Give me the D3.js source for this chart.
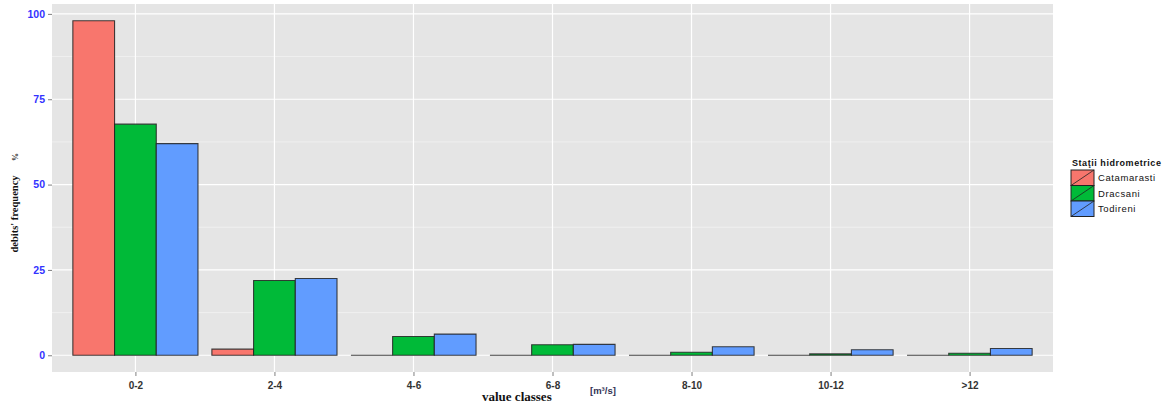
<!DOCTYPE html>
<html><head><meta charset="utf-8">
<script src="https://cdn.jsdelivr.net/npm/d3@7"></script>
<style>body{margin:0;background:#fff}</style>
</head><body>
<svg id="chart" width="1176" height="410"></svg>
<script>
const categories = ["0-2","2-4","4-6","6-8","8-10","10-12",">12"];
const seriesNames = ["Catamarasti","Dracsani","Todireni"];
const catamarasti = [98.0, 1.8, 0, 0, 0, 0, 0];
const dracsani = [67.7, 21.9, 5.5, 3.1, 0.9, 0.4, 0.6];
const todireni = [62.0, 22.5, 6.2, 3.2, 2.5, 1.6, 2.0];
const yTicks = [0, 25, 50, 75, 100];
const yMinor = [12.5, 37.5, 62.5, 87.5];
const colors = ["#F8766D", "#00BA38", "#619CFF"];

const series = [catamarasti, dracsani, todireni];
const svg = d3.select("#chart");
const L = 52, T = 4, R = 1053, B = 372;

const n = categories.length;
const xLin = d3.scaleLinear().domain([1 - 0.6, n + 0.6]).range([L, R]);
const xPos = c => xLin(categories.indexOf(c) + 1);
const step = xLin(2) - xLin(1);
const groupW = step * 0.9;
const x1 = d3.scaleBand().domain(seriesNames).range([-groupW / 2, groupW / 2]);

const yMax = 98.0, yMin = 0;
const pad = (yMax - yMin) * 0.05;
const y = d3.scaleLinear().domain([yMin - pad, yMax + pad]).range([B, T]);

svg.append("rect").attr("x", L).attr("y", T).attr("width", R - L).attr("height", B - T).attr("fill", "#E5E5E5");

svg.append("g").selectAll("line").data(yMinor).join("line")
  .attr("x1", L).attr("x2", R).attr("y1", d => y(d)).attr("y2", d => y(d))
  .attr("stroke", "#F2F2F2").attr("stroke-width", 0.8);
svg.append("g").selectAll("line").data(yTicks).join("line")
  .attr("x1", L).attr("x2", R).attr("y1", d => y(d)).attr("y2", d => y(d))
  .attr("stroke", "#fff").attr("stroke-width", 1.2);
svg.append("g").selectAll("line").data(categories).join("line")
  .attr("x1", d => xPos(d)).attr("x2", d => xPos(d)).attr("y1", T).attr("y2", B)
  .attr("stroke", "#fff").attr("stroke-width", 1.2);

// bars (paths so zero-height bars still show their outline)
const barData = [];
categories.forEach((c, i) => series.forEach((s, j) => barData.push({c, name: seriesNames[j], v: s[i], col: colors[j]})));
svg.append("g").selectAll("path").data(barData).join("path")
  .attr("d", d => {
    const x0 = xPos(d.c) + x1(d.name), w = x1.bandwidth();
    const p = d3.path();
    p.moveTo(x0, y(0)); p.lineTo(x0, y(d.v)); p.lineTo(x0 + w, y(d.v)); p.lineTo(x0 + w, y(0)); p.closePath();
    return p.toString();
  })
  .attr("fill", d => d.col)
  .attr("stroke", "#222").attr("stroke-opacity", 0.85).attr("stroke-width", 1.1);

// y axis
const yAxis = d3.axisLeft(y).tickValues(yTicks).tickSize(4).tickPadding(3);
const gy = svg.append("g").attr("transform", `translate(${L},0)`).call(yAxis);
gy.select(".domain").remove();
gy.selectAll(".tick line").attr("stroke", "#7f7f7f");
gy.selectAll(".tick text").attr("fill", "#3333ff").attr("font-family", "Liberation Sans, Arial, sans-serif")
  .attr("font-weight", "bold").attr("font-size", 10.5);

// x axis
const xScaleAxis = d3.scalePoint().domain(categories).range([xPos(categories[0]), xPos(categories[n - 1])]);
const xAxis = d3.axisBottom(xScaleAxis).tickSize(4).tickPadding(6);
const gx = svg.append("g").attr("transform", `translate(0,${B})`).call(xAxis);
gx.select(".domain").remove();
gx.selectAll(".tick line").attr("stroke", "#7f7f7f");
gx.selectAll(".tick text").attr("fill", "#333").attr("font-family", "Liberation Sans, Arial, sans-serif")
  .attr("font-weight", "bold").attr("font-size", 10);

// axis titles
svg.append("text").attr("x", 482).attr("y", 401)
  .attr("font-family", "Liberation Serif, Times New Roman, serif").attr("font-weight", "bold").attr("font-size", 13)
  .attr("fill", "#111").text("value classes");
svg.append("text").attr("x", 590).attr("y", 394)
  .attr("font-family", "Liberation Sans, Arial, sans-serif").attr("font-weight", "bold").attr("font-size", 9.5)
  .attr("fill", "#333355").text("[m³/s]");
svg.append("text").attr("transform", "translate(18,214) rotate(-90)").attr("text-anchor", "middle")
  .attr("font-family", "Liberation Serif, Times New Roman, serif").attr("font-weight", "bold").attr("font-size", 10.5)
  .attr("fill", "#111").text("debits' frequency");
svg.append("text").attr("transform", "translate(18,157) rotate(-90)").attr("text-anchor", "middle")
  .attr("font-family", "Liberation Serif, Times New Roman, serif").attr("font-weight", "bold").attr("font-size", 8)
  .attr("fill", "#333").text("%");

// legend
const lg = svg.append("g").attr("transform", "translate(1071,170)");
lg.append("text").attr("x", 1).attr("y", -4).attr("font-family", "Liberation Sans, Arial, sans-serif")
  .attr("font-weight", "bold").attr("font-size", 9).attr("letter-spacing", 0.55).attr("fill", "#111").text("Staţii hidrometrice");
const kh = 15.5, kw = 23;
seriesNames.forEach((s, i) => {
  const g = lg.append("g").attr("transform", `translate(0,${i * kh})`);
  g.append("rect").attr("width", kw).attr("height", kh).attr("fill", colors[i]).attr("stroke", "#222").attr("stroke-width", 1);
  g.append("line").attr("x1", 0).attr("y1", kh).attr("x2", kw).attr("y2", 0).attr("stroke", "#222").attr("stroke-width", 0.8);
  g.append("text").attr("x", kw + 4).attr("y", kh / 2 + 3.5).attr("font-family", "Liberation Sans, Arial, sans-serif")
    .attr("font-size", 9.5).attr("letter-spacing", 0.6).attr("fill", "#111").text(s);
});
</script>
</body></html>
